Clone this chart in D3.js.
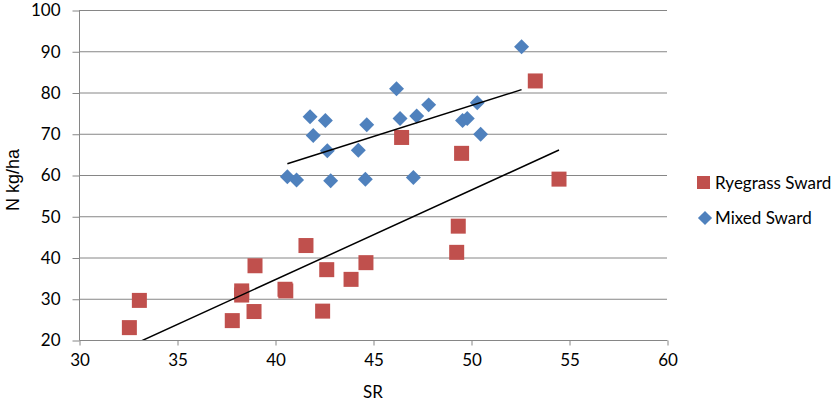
<!DOCTYPE html>
<html>
<head>
<meta charset="utf-8">
<script src="https://cdn.jsdelivr.net/npm/d3@7"></script>
<style>
  body { margin: 0; background: #fff; }
  svg { display: block; }
  .tick text { font-family: Lato, "Open Sans", sans-serif; font-size: 17px; fill: #000; }
</style>
</head>
<body>
<div id="chart"></div>
<script>
// N kg/ha against SR, two swards
var ryegrassSR = [32.57, 33.08, 37.82, 38.93, 38.98, 38.3, 38.3, 40.51, 40.55, 41.58,
                  42.64, 42.43, 43.88, 44.64, 49.35, 49.27, 46.46, 49.52, 53.28, 54.49]
var ryegrassN  = [23.0, 29.6, 24.7, 26.9, 38.0, 31.9, 30.9, 32.3, 31.9, 42.9,
                  37.05, 27.0, 34.7, 38.75, 47.6, 41.25, 69.1, 65.25, 82.8, 59.0]

var mixedSR = [52.58, 46.2, 41.79, 42.57, 41.95, 44.68, 42.67, 44.25, 46.38, 47.23,
               47.84, 50.32, 49.57, 49.81, 50.49, 40.63, 41.1, 42.84, 44.61, 47.06]
var mixedN  = [91.1, 80.9, 74.1, 73.2, 69.6, 72.2, 65.9, 66.0, 73.7, 74.3,
               77.0, 77.5, 73.2, 73.7, 69.9, 59.6, 58.8, 58.6, 58.95, 59.4]

var seriesNames = ["Ryegrass Sward", "Mixed Sward"]
var xTicks = [30, 35, 40, 45, 50, 55, 60]
var yTicks = [20, 30, 40, 50, 60, 70, 80, 90, 100]

var width = 839
var height = 400
var margin = {top: 10, left: 79}
var plotW = 588
var plotH = 330

var red = "#C0504D"
var blue = "#4F81BD"
var gridColor = "#868686"

var x = d3.scaleLinear().domain([30, 60]).range([0, plotW])
var y = d3.scaleLinear().domain([20, 100]).range([plotH, 0])

var svg = d3.select("#chart")
    .append("svg")
    .attr("width", width)
    .attr("height", height)

var g = svg.append("g")
    .attr("transform", "translate(" + margin.left + "," + margin.top + ")")

svg.append("clipPath")
    .attr("id", "plot-clip")
    .append("rect")
    .attr("x", 0).attr("y", 0)
    .attr("width", plotW).attr("height", plotH)

// horizontal gridlines
g.selectAll(".grid")
    .data(yTicks.slice(1))
    .enter()
    .append("line")
    .attr("class", "grid")
    .attr("x1", 0)
    .attr("x2", plotW)
    .attr("y1", function(d) { return y(d) + 0.5 })
    .attr("y2", function(d) { return y(d) + 0.5 })
    .style("stroke", gridColor)
    .style("stroke-width", 1)

// axes
var yAxis = g.append("g")
    .attr("transform", "translate(0.5,0.5)")
    .call(d3.axisLeft(y).tickValues(yTicks).tickSize(7).tickPadding(12))
var xAxis = g.append("g")
    .attr("transform", "translate(0.5," + (plotH + 0.5) + ")")
    .call(d3.axisBottom(x).tickValues(xTicks).tickSize(5).tickPadding(8))

yAxis.selectAll("path, line").style("stroke", gridColor)
xAxis.selectAll("path, line").style("stroke", gridColor)
yAxis.select(".domain").attr("d", "M0,0V" + plotH)
xAxis.select(".domain").attr("d", "M0,0H" + plotW)

// markers
var ryegrass = ryegrassSR.map(function(d, i) { return [d, ryegrassN[i]] })
var mixed = mixedSR.map(function(d, i) { return [d, mixedN[i]] })

var sq = 15
g.selectAll(".rye")
    .data(ryegrass)
    .enter()
    .append("rect")
    .attr("class", "rye")
    .attr("x", function(d) { return x(d[0]) - sq / 2 })
    .attr("y", function(d) { return y(d[1]) - sq / 2 })
    .attr("width", sq)
    .attr("height", sq)
    .style("fill", red)

var diamond = d3.symbol().type(d3.symbolSquare).size(112)
g.selectAll(".mix")
    .data(mixed)
    .enter()
    .append("path")
    .attr("class", "mix")
    .attr("d", diamond)
    .attr("transform", function(d) { return "translate(" + x(d[0]) + "," + y(d[1]) + ") rotate(45)" })
    .style("fill", blue)

// linear trendlines (least squares), spanning each series' x range
function trend(points) {
    var mx = d3.mean(points, function(d) { return d[0] })
    var my = d3.mean(points, function(d) { return d[1] })
    var sxy = d3.sum(points, function(d) { return (d[0] - mx) * (d[1] - my) })
    var sxx = d3.sum(points, function(d) { return (d[0] - mx) * (d[0] - mx) })
    var b = sxy / sxx
    var ext = d3.extent(points, function(d) { return d[0] })
    return ext.map(function(v) { return [v, my + b * (v - mx)] })
}

var line = d3.line()
    .x(function(d) { return x(d[0]) })
    .y(function(d) { return y(d[1]) })

var lines = g.append("g").attr("clip-path", "url(#plot-clip)")
;[ryegrass, mixed].forEach(function(pts) {
    lines.append("path")
        .attr("d", line(trend(pts)))
        .style("fill", "none")
        .style("stroke", "#000")
        .style("stroke-width", 1.5)
})

// axis titles
svg.append("text")
    .attr("x", margin.left + plotW / 2)
    .attr("y", 398)
    .attr("text-anchor", "middle")
    .style("font-family", "Lato, 'Open Sans', sans-serif")
    .style("font-size", "17px")
    .text("SR")

svg.append("text")
    .attr("transform", "translate(19,180) rotate(-90)")
    .attr("text-anchor", "middle")
    .style("font-family", "'Liberation Sans', Arial, sans-serif")
    .style("font-size", "18px")
    .text("N kg/ha")

// legend
var legend = svg.append("g")
legend.append("rect")
    .attr("x", 697).attr("y", 176)
    .attr("width", 13).attr("height", 13)
    .style("fill", red)
legend.append("path")
    .attr("d", d3.symbol().type(d3.symbolSquare).size(100))
    .attr("transform", "translate(705,218) rotate(45)")
    .style("fill", blue)

legend.selectAll(".legend-text")
    .data(seriesNames)
    .enter()
    .append("text")
    .attr("class", "legend-text")
    .attr("x", 715)
    .attr("y", function(d, i) { return i == 0 ? 189 : 224 })
    .style("font-family", "Lato, 'Open Sans', sans-serif")
    .style("font-size", "17px")
    .text(function(d) { return d })
</script>
</body>
</html>
